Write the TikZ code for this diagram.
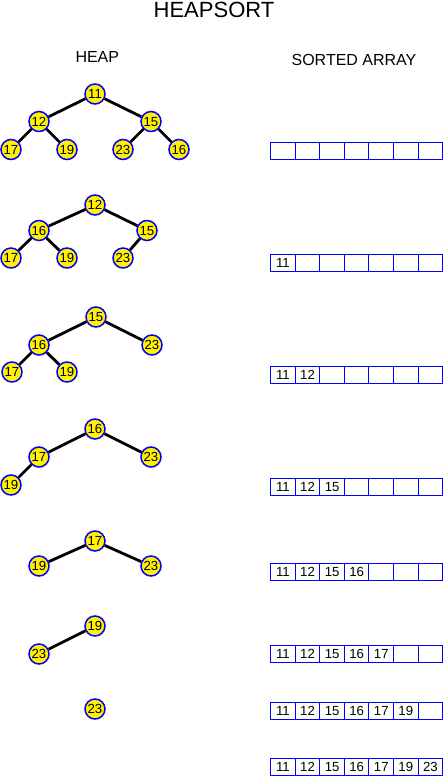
\documentclass[tikz,border=0pt]{standalone}
\usepackage{fontspec}
\setmainfont{Liberation Sans}
\begin{document}
\begin{tikzpicture}[x=1pt,y=-1pt,
  hnode/.style={circle,draw=blue,fill=yellow,line width=1.5pt,minimum size=20pt,inner sep=0pt,text height=9.4pt,text depth=0pt,font=\fontsize{13.2}{14}\selectfont},
  tedge/.style={line width=2.8pt,black},
  cell/.style={draw=blue,line width=1pt,minimum width=24.57pt,minimum height=17pt,inner sep=0pt,text height=9.4pt,text depth=0pt,font=\fontsize{13.2}{14}\selectfont},
  ttl/.style={anchor=base,inner sep=0pt}
]
\useasboundingbox (0,0) rectangle (443,777);
\node[ttl,font=\fontsize{22}{24}\selectfont] (title) at (214,17) {HEAPSORT};
\node[ttl,font=\fontsize{16}{18}\selectfont] (heap) at (97.3,62) {HEAP};
\node[ttl,font=\fontsize{16}{18}\selectfont] (sorted) at (354,65.7) {SORTED ARRAY};

% tree 1
\node[hnode] (t1r) at (95,94) {11};
\node[hnode] (t1a) at (39,121.5) {12};
\node[hnode] (t1b) at (151,121.5) {15};
\node[hnode] (t1c) at (11,149.5) {17};
\node[hnode] (t1d) at (67,149.5) {19};
\node[hnode] (t1e) at (123,149.5) {23};
\node[hnode] (t1f) at (179,149.5) {16};
\draw[tedge] (t1r) -- (t1a) (t1r) -- (t1b) (t1a) -- (t1c) (t1a) -- (t1d) (t1b) -- (t1e) (t1b) -- (t1f);

% tree 2
\node[hnode] (t2r) at (95,205) {12};
\node[hnode] (t2a) at (39,230.5) {16};
\node[hnode] (t2b) at (147,230.5) {15};
\node[hnode] (t2c) at (11,258) {17};
\node[hnode] (t2d) at (67,258) {19};
\node[hnode] (t2e) at (123,258) {23};
\draw[tedge] (t2r) -- (t2a) (t2r) -- (t2b) (t2a) -- (t2c) (t2a) -- (t2d) (t2b) -- (t2e);

% tree 3
\node[hnode] (t3r) at (96,317) {15};
\node[hnode] (t3a) at (39,345) {16};
\node[hnode] (t3b) at (152,345) {23};
\node[hnode] (t3c) at (12,372) {17};
\node[hnode] (t3d) at (67,372) {19};
\draw[tedge] (t3r) -- (t3a) (t3r) -- (t3b) (t3a) -- (t3c) (t3a) -- (t3d);

% tree 4
\node[hnode] (t4r) at (95,429) {16};
\node[hnode] (t4a) at (39,457) {17};
\node[hnode] (t4b) at (151,457) {23};
\node[hnode] (t4c) at (11,485) {19};
\draw[tedge] (t4r) -- (t4a) (t4r) -- (t4b) (t4a) -- (t4c);

% tree 5
\node[hnode] (t5r) at (95,541) {17};
\node[hnode] (t5a) at (39,566) {19};
\node[hnode] (t5b) at (151,566) {23};
\draw[tedge] (t5r) -- (t5a) (t5r) -- (t5b);

% tree 6
\node[hnode] (t6r) at (95,626) {19};
\node[hnode] (t6a) at (39,654) {23};
\draw[tedge] (t6r) -- (t6a);

% tree 7
\node[hnode] (t7r) at (95,709) {23};

% sorted arrays
\foreach \n/\y in {0/150.8,1/263,2/374.8,3/486.8,4/571.7,5/654.2,6/710.7,7/766.8}{
  \foreach \v [count=\i] in {11,12,15,16,17,19,23}{
    \node[cell] (s\n-\i) at ({270.7+24.57*(\i-0.5)},\y) {\ifnum\i>\n\relax\else\v\fi};
  }
}
\end{tikzpicture}
\end{document}
